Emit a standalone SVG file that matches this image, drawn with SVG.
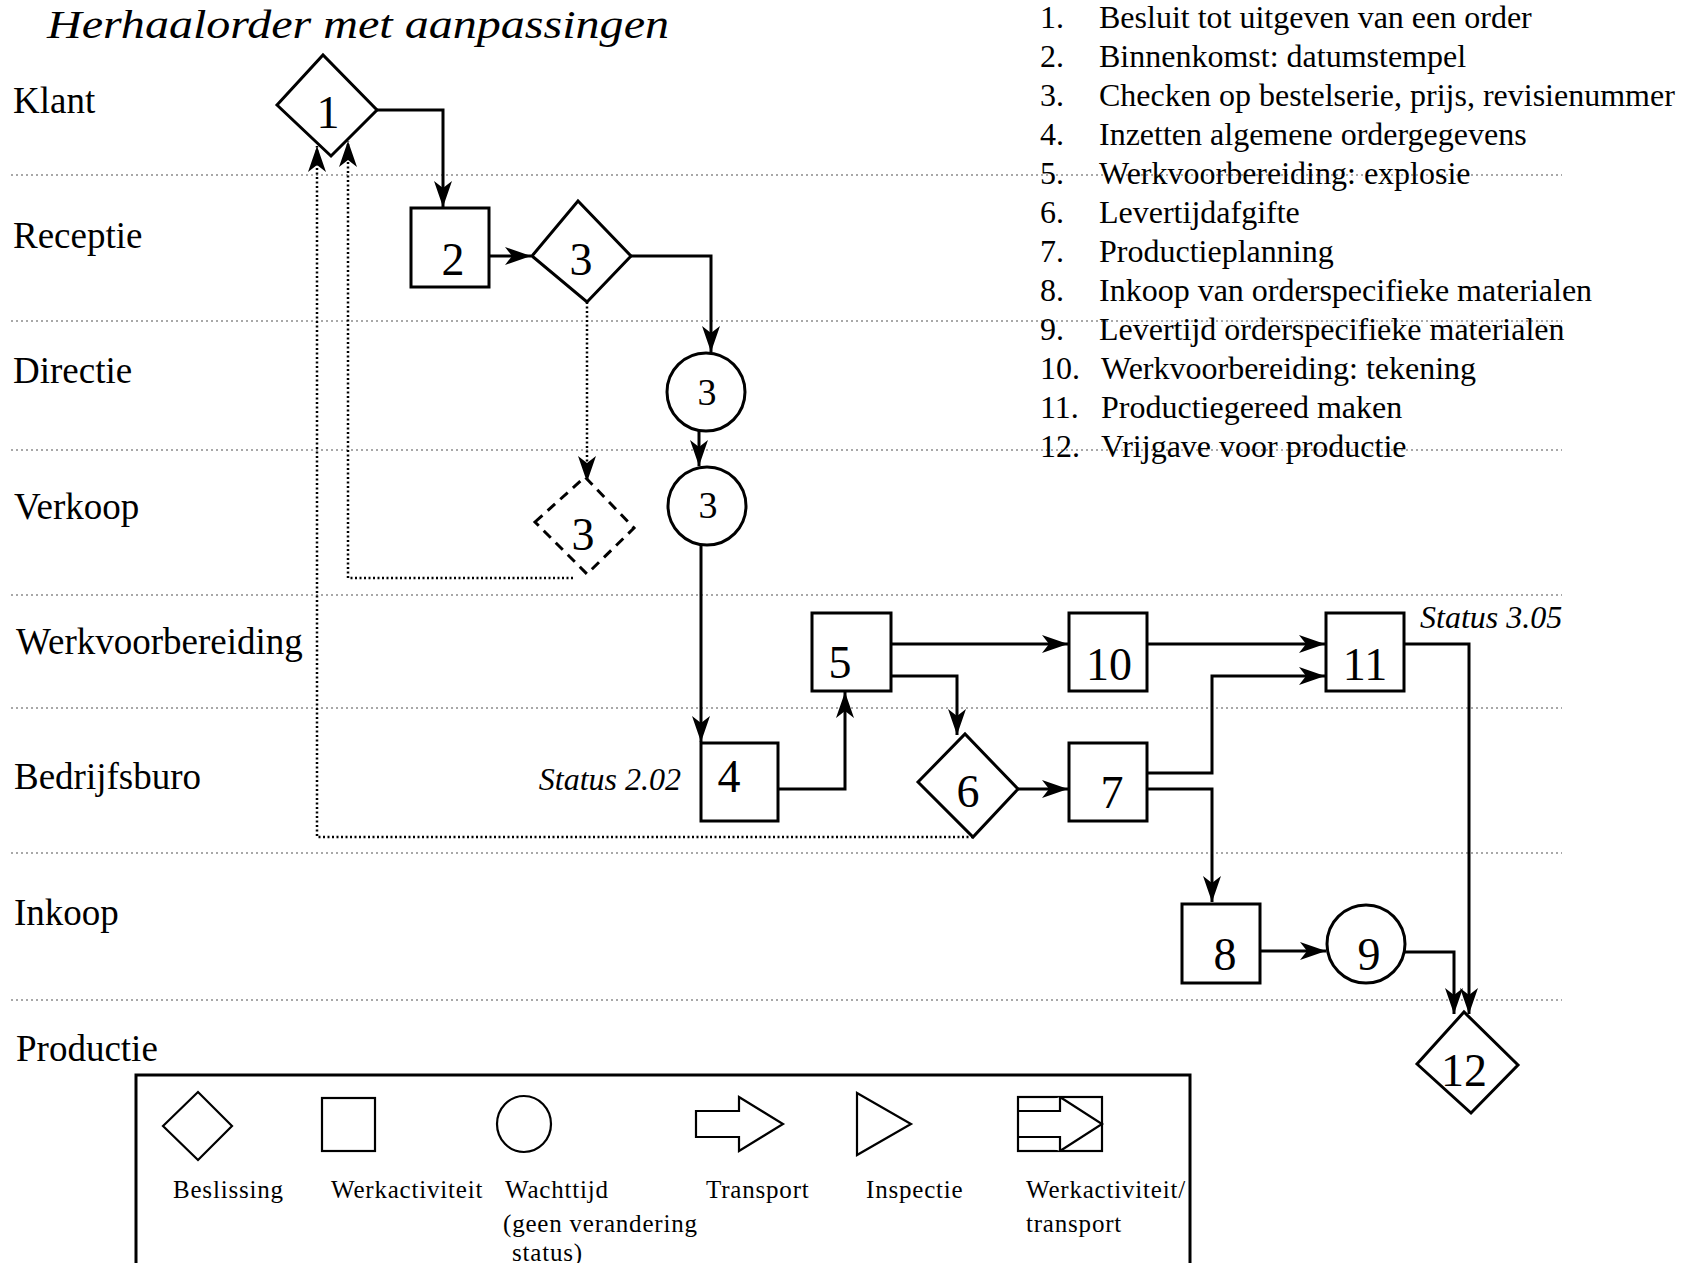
<svg xmlns="http://www.w3.org/2000/svg" width="1693" height="1263" viewBox="0 0 1693 1263">
<style>
  .lane { stroke:#a8a8a8; stroke-width:2; stroke-dasharray:2 3; fill:none; }
  .shape { fill:#fff; stroke:#000; stroke-width:3; }
  .dash { fill:#fff; stroke:#000; stroke-width:3; stroke-dasharray:10 7; }
  .conn { fill:none; stroke:#000; stroke-width:3; }
  .dot { fill:none; stroke:#000; stroke-width:2.5; stroke-dasharray:2 2.5; }
  .lbl { font-family:"Liberation Serif","Times New Roman",serif; font-size:37px; fill:#000; }
  .num { font-family:"Liberation Serif","Times New Roman",serif; font-size:46px; fill:#000; text-anchor:middle; }
  .cnum { font-family:"Liberation Serif","Times New Roman",serif; font-size:38px; fill:#000; text-anchor:middle; }
  .list { font-family:"Liberation Serif","Times New Roman",serif; font-size:32px; fill:#000; }
  .it { font-family:"Liberation Serif","Times New Roman",serif; font-style:italic; font-size:32px; fill:#000; }
  .leg { font-family:"Liberation Serif","Times New Roman",serif; font-size:25px; letter-spacing:0.8px; fill:#000; }
  .lshape { fill:#fff; stroke:#000; stroke-width:2.2; }
</style>
<defs>
  <marker id="arr" markerUnits="userSpaceOnUse" markerWidth="26" markerHeight="18" viewBox="0 0 26 18" refX="26" refY="9" orient="auto">
    <path d="M0,0 L26,9 L0,18 L7,9 Z" fill="#000"/>
  </marker>
</defs>
<rect width="1693" height="1263" fill="#fff"/>

<text x="47" y="38" font-family="Liberation Serif, Times New Roman, serif" font-style="italic" font-size="41" textLength="622" lengthAdjust="spacingAndGlyphs">Herhaalorder met aanpassingen</text>

<g id="lanes">
  <line class="lane" x1="11" y1="175" x2="1562" y2="175"/>
  <line class="lane" x1="11" y1="321" x2="1562" y2="321"/>
  <line class="lane" x1="11" y1="450" x2="1562" y2="450"/>
  <line class="lane" x1="11" y1="595" x2="1562" y2="595"/>
  <line class="lane" x1="11" y1="708" x2="1562" y2="708"/>
  <line class="lane" x1="11" y1="853" x2="1562" y2="853"/>
  <line class="lane" x1="11" y1="1000" x2="1562" y2="1000"/>
</g>

<g id="lane-labels">
  <text class="lbl" x="13" y="113">Klant</text>
  <text class="lbl" x="13" y="248">Receptie</text>
  <text class="lbl" x="13" y="383">Directie</text>
  <text class="lbl" x="14" y="519">Verkoop</text>
  <text class="lbl" x="16" y="654">Werkvoorbereiding</text>
  <text class="lbl" x="14" y="789">Bedrijfsburo</text>
  <text class="lbl" x="14" y="925">Inkoop</text>
  <text class="lbl" x="16" y="1061">Productie</text>
</g>

<g id="list">
  <text class="list" x="1040" y="28">1.</text><text class="list" x="1099" y="28">Besluit tot uitgeven van een order</text>
  <text class="list" x="1040" y="67">2.</text><text class="list" x="1099" y="67">Binnenkomst: datumstempel</text>
  <text class="list" x="1040" y="106">3.</text><text class="list" x="1099" y="106">Checken op bestelserie, prijs, revisienummer</text>
  <text class="list" x="1040" y="145">4.</text><text class="list" x="1099" y="145">Inzetten algemene ordergegevens</text>
  <text class="list" x="1040" y="184">5.</text><text class="list" x="1099" y="184">Werkvoorbereiding: explosie</text>
  <text class="list" x="1040" y="223">6.</text><text class="list" x="1099" y="223">Levertijdafgifte</text>
  <text class="list" x="1040" y="262">7.</text><text class="list" x="1099" y="262">Productieplanning</text>
  <text class="list" x="1040" y="301">8.</text><text class="list" x="1099" y="301">Inkoop van orderspecifieke materialen</text>
  <text class="list" x="1040" y="340">9.</text><text class="list" x="1099" y="340">Levertijd orderspecifieke materialen</text>
  <text class="list" x="1040" y="379">10.</text><text class="list" x="1101" y="379">Werkvoorbereiding: tekening</text>
  <text class="list" x="1040" y="418">11.</text><text class="list" x="1101" y="418">Productiegereed maken</text>
  <text class="list" x="1040" y="457">12.</text><text class="list" x="1101" y="457">Vrijgave voor productie</text>
</g>

<g id="connectors">
  <path class="conn" d="M377,110 H443 V207" marker-end="url(#arr)"/>
  <path class="conn" d="M489,256 H531" marker-end="url(#arr)"/>
  <path class="conn" d="M631,256 H711 V352" marker-end="url(#arr)"/>
  <path class="conn" d="M699,431 V466" marker-end="url(#arr)"/>
  <path class="conn" d="M701,545 V742" marker-end="url(#arr)"/>
  <path class="conn" d="M778,789 H845 V692" marker-end="url(#arr)"/>
  <path class="conn" d="M891,644 H1068" marker-end="url(#arr)"/>
  <path class="conn" d="M891,676 H957 V735" marker-end="url(#arr)"/>
  <path class="conn" d="M1018,789 H1068" marker-end="url(#arr)"/>
  <path class="conn" d="M1147,644 H1325" marker-end="url(#arr)"/>
  <path class="conn" d="M1147,773 H1212 V676 H1325" marker-end="url(#arr)"/>
  <path class="conn" d="M1147,789 H1212 V902" marker-end="url(#arr)"/>
  <path class="conn" d="M1260,951 H1326" marker-end="url(#arr)"/>
  <path class="conn" d="M1405,952 H1454 V1014" marker-end="url(#arr)"/>
  <path class="conn" d="M1404,644 H1469 V1014" marker-end="url(#arr)"/>
  <path class="dot" d="M973,837 H317 V146" marker-end="url(#arr)"/>
  <path class="dot" d="M587,302 V482" marker-end="url(#arr)"/>
  <path class="dot" d="M573,578 H348 V141" marker-end="url(#arr)"/>
</g>

<g id="n1"><polygon class="shape" points="277,105 323,55 377,110 331,156"/><text class="num" x="328" y="128">1</text></g>
<g id="n2"><rect class="shape" x="411" y="208" width="78" height="79"/><text class="num" x="453" y="275">2</text></g>
<g id="n3a"><polygon class="shape" points="532,256 578,201 631,256 587,302"/><text class="num" x="581" y="275">3</text></g>
<g id="n3b"><circle class="shape" cx="706" cy="392" r="39"/><text class="cnum" x="707" y="405">3</text></g>
<g id="n3c"><circle class="shape" cx="707" cy="506" r="39"/><text class="cnum" x="708" y="518">3</text></g>
<g id="n3d"><polygon class="dash" points="535,522 585,477 634,528 587,574"/><text class="num" x="583" y="550">3</text></g>
<g id="n4"><rect class="shape" x="701" y="743" width="77" height="78"/><text class="num" x="729" y="792">4</text></g>
<g id="n5"><rect class="shape" x="812" y="613" width="79" height="78"/><text class="num" x="840" y="678">5</text></g>
<g id="n6"><polygon class="shape" points="918,782 965,734 1018,789 973,837"/><text class="num" x="968" y="807">6</text></g>
<g id="n7"><rect class="shape" x="1069" y="743" width="78" height="78"/><text class="num" x="1112" y="808">7</text></g>
<g id="n10"><rect class="shape" x="1069" y="613" width="78" height="78"/><text class="num" x="1109" y="680">10</text></g>
<g id="n11"><rect class="shape" x="1326" y="613" width="78" height="78"/><text class="num" x="1365" y="680">11</text></g>
<g id="n8"><rect class="shape" x="1182" y="904" width="78" height="79"/><text class="num" x="1225" y="970">8</text></g>
<g id="n9"><circle class="shape" cx="1366" cy="944" r="39"/><text class="num" x="1369" y="970">9</text></g>
<g id="n12"><polygon class="shape" points="1417,1064 1464,1012 1518,1065 1471,1113"/><text class="num" x="1464" y="1086">12</text></g>

<g id="status">
  <text class="it" x="681" y="790" text-anchor="end">Status 2.02</text>
  <text class="it" x="1420" y="628">Status 3.05</text>
</g>

<g id="legend">
  <rect x="136" y="1075" width="1054" height="200" fill="none" stroke="#000" stroke-width="3"/>
  <polygon class="lshape" points="163,1126 198,1092 232,1126 198,1160"/>
  <rect class="lshape" x="322" y="1098" width="53" height="53"/>
  <ellipse class="lshape" cx="524" cy="1124" rx="27" ry="28"/>
  <polygon class="lshape" points="696,1111 739,1111 739,1097 783,1124 739,1151 739,1137 696,1137"/>
  <polygon class="lshape" points="857,1093 911,1124 857,1155"/>
  <rect class="lshape" x="1018" y="1097" width="84" height="54"/>
  <path class="lshape" fill="none" d="M1018,1111 H1060 V1097 M1018,1137 H1060 V1151 M1060,1097 L1102,1124 L1060,1151"/>
  <text class="leg" x="173" y="1198">Beslissing</text>
  <text class="leg" x="331" y="1198">Werkactiviteit</text>
  <text class="leg" x="505" y="1198">Wachttijd</text>
  <text class="leg" x="503" y="1232">(geen verandering</text>
  <text class="leg" x="512" y="1261">status)</text>
  <text class="leg" x="706" y="1198">Transport</text>
  <text class="leg" x="866" y="1198">Inspectie</text>
  <text class="leg" x="1026" y="1198">Werkactiviteit/</text>
  <text class="leg" x="1026" y="1232">transport</text>
</g>
</svg>
